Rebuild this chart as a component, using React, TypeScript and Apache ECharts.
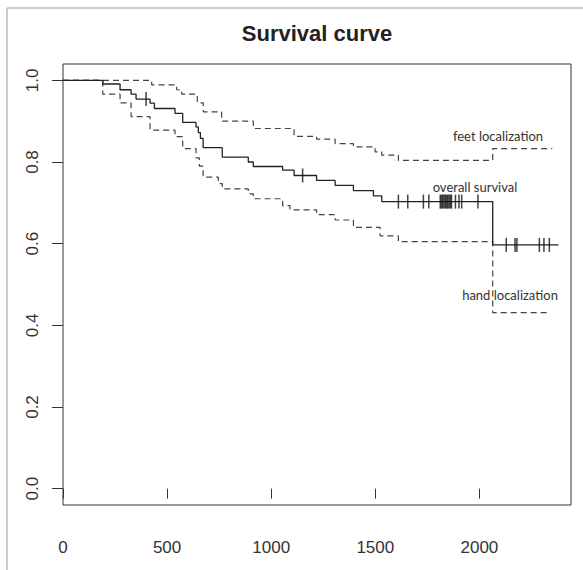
import React, { useEffect, useRef } from "react";
import * as echarts from "echarts";

// Kaplan-Meier estimate (overall survival)
const survTimes = [0, 191, 274, 327, 351, 418, 439, 538, 575, 639, 650, 660, 673, 765, 890, 914, 1055, 1110, 1218, 1307, 1395, 1491, 1531, 2064, 2380];
const survValues = [1.0, 0.991, 0.977, 0.966, 0.954, 0.944, 0.931, 0.919, 0.897, 0.886, 0.872, 0.858, 0.835, 0.812, 0.8, 0.789, 0.78, 0.767, 0.755, 0.743, 0.73, 0.717, 0.703, 0.597, 0.597];

// upper confidence limit ("feet localization")
const upperTimes = [0, 426, 546, 570, 645, 674, 762, 914, 1110, 1218, 1307, 1395, 1499, 1531, 1611, 2064, 2350];
const upperValues = [1.0, 0.989, 0.977, 0.966, 0.945, 0.923, 0.9, 0.882, 0.863, 0.856, 0.845, 0.837, 0.825, 0.817, 0.804, 0.833, 0.833];

// lower confidence limit ("hand localization")
const lowerTimes = [0, 191, 274, 327, 418, 538, 575, 639, 655, 673, 746, 765, 890, 914, 1055, 1090, 1218, 1307, 1395, 1523, 1611, 2064, 2330];
const lowerValues = [1.0, 0.966, 0.945, 0.911, 0.878, 0.862, 0.833, 0.81, 0.79, 0.763, 0.747, 0.734, 0.722, 0.71, 0.693, 0.683, 0.671, 0.658, 0.64, 0.619, 0.605, 0.431, 0.431];

// censored observations
const censorTimes = [399, 1151, 1611, 1656, 1731, 1757, 1812, 1818, 1824, 1830, 1836, 1842, 1848, 1854, 1860, 1866, 1885, 1902, 1915, 1993, 2129, 2171, 2180, 2288, 2310, 2336];

const xTicks = [0, 500, 1000, 1500, 2000];
const yTicks = [0, 0.2, 0.4, 0.6, 0.8, 1.0];

const titleText = "Survival curve";
const labelFeet = "feet localization";
const labelOverall = "overall survival";
const labelHand = "hand localization";

function pairs(t: number[], v: number[]) {
  return t.map((x, i) => [x, v[i]]);
}

function survAt(t: number) {
  let v = survValues[0];
  for (let i = 0; i < survTimes.length; i++) {
    if (survTimes[i] <= t) v = survValues[i];
  }
  return v;
}

export default function App() {
  const ref = useRef<HTMLDivElement>(null);
  useEffect(() => {
    if (!ref.current) return;
    const chart = echarts.init(ref.current, null, { renderer: "svg" });
    const axisFont = "Liberation Sans";
    const annFont = 'Lato, "Open Sans", sans-serif';
    chart.setOption({
      animation: false,
      backgroundColor: "#ffffff",
      grid: {
        left: 63,
        right: 12,
        top: 64,
        bottom: 65,
        show: true,
        borderColor: "#333",
        borderWidth: 1,
        containLabel: false,
        outerBoundsMode: "none",
      },
      xAxis: {
        type: "value",
        min: 0,
        max: 2440,
        axisLine: { show: false },
        splitLine: { show: false },
        axisTick: { show: true, length: 10, lineStyle: { color: "#333" }, customValues: xTicks },
        axisLabel: {
          customValues: xTicks,
          fontSize: 17,
          fontFamily: axisFont,
          color: "#333",
          margin: 34,
          formatter: (v: number) => String(v),
        },
      },
      yAxis: {
        type: "value",
        min: -0.04,
        max: 1.04,
        axisLine: { show: false },
        splitLine: { show: false },
        axisTick: { show: true, length: 11, lineStyle: { color: "#333" }, customValues: yTicks },
        axisLabel: {
          customValues: yTicks,
          rotate: 90,
          fontSize: 17,
          fontFamily: axisFont,
          color: "#333",
          margin: 22,
          formatter: (v: number) => v.toFixed(1),
        },
      },
      series: [
        {
          type: "line",
          step: "end",
          data: pairs(upperTimes, upperValues),
          showSymbol: false,
          lineStyle: { color: "#444", width: 1.2, type: [6, 4] },
          z: 2,
        },
        {
          type: "line",
          step: "end",
          data: pairs(lowerTimes, lowerValues),
          showSymbol: false,
          lineStyle: { color: "#444", width: 1.2, type: [6, 4] },
          z: 2,
        },
        {
          type: "line",
          step: "end",
          data: pairs(survTimes, survValues),
          showSymbol: false,
          lineStyle: { color: "#222", width: 1.3 },
          z: 3,
        },
        {
          type: "scatter",
          data: censorTimes.map((t) => [t, survAt(t)]),
          symbol: "rect",
          symbolSize: [1.5, 14],
          itemStyle: { color: "#111" },
          z: 4,
        },
      ],
      graphic: [
        {
          type: "rect",
          shape: { x: 7, y: 8, width: 640, height: 640 },
          style: { fill: "none", stroke: "#999", lineWidth: 1 },
          silent: true,
        },
        {
          type: "text",
          x: 317,
          y: 33,
          style: {
            text: titleText,
            font: 'bold 22px "Liberation Sans", Arial, sans-serif',
            fill: "#222",
            textAlign: "center",
            textVerticalAlign: "middle",
          },
        },
        {
          type: "text",
          x: 498,
          y: 136,
          style: { text: labelFeet, font: "13px " + annFont, fill: "#333", textAlign: "center", textVerticalAlign: "middle" },
        },
        {
          type: "text",
          x: 475,
          y: 187,
          style: { text: labelOverall, font: "13px " + annFont, fill: "#333", textAlign: "center", textVerticalAlign: "middle" },
        },
        {
          type: "text",
          x: 510,
          y: 295,
          style: { text: labelHand, font: "13px " + annFont, fill: "#333", textAlign: "center", textVerticalAlign: "middle" },
        },
      ],
    });
    return () => chart.dispose();
  }, []);
  return (
    <div
      ref={ref}
      style={{ position: "fixed", left: 0, top: 0, width: 583, height: 570 }}
    />
  );
}
